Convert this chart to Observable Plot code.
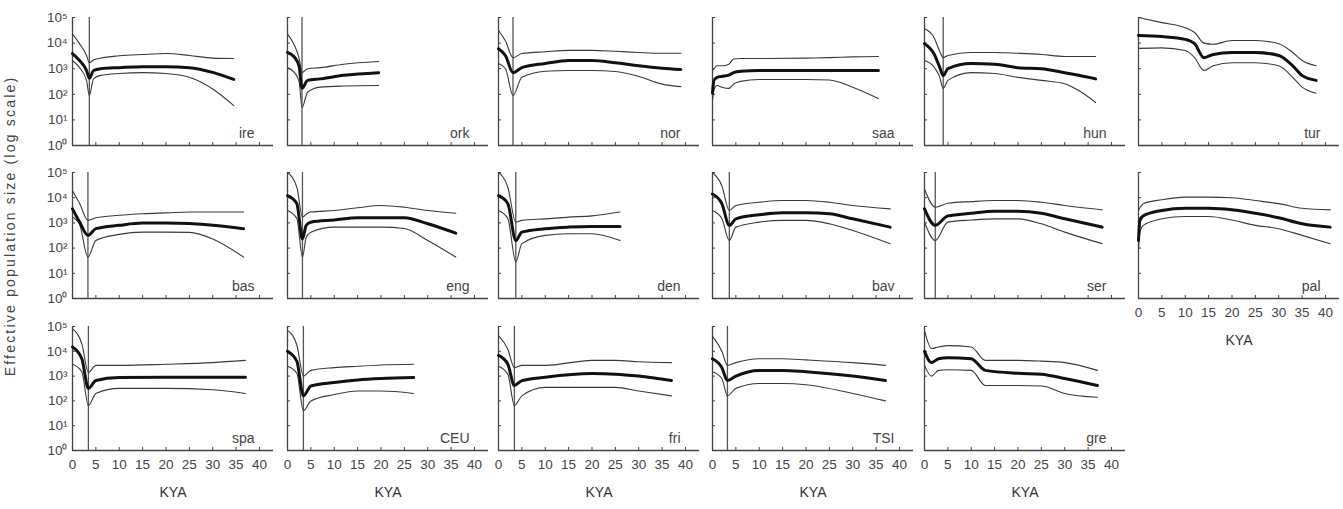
<!DOCTYPE html>
<html><head><meta charset="utf-8">
<script src="https://cdn.jsdelivr.net/npm/d3@7"></script>
<script src="https://cdn.jsdelivr.net/npm/@observablehq/plot@0.6"></script>
<style>
body{margin:0;background:#fff}
#chart{position:relative;width:1343px;height:509px;font-family:"Liberation Sans",Arial,sans-serif;overflow:hidden}
#ytitle{position:absolute;left:10px;top:226px;transform:translate(-50%,-50%) rotate(-90deg);white-space:nowrap;font-size:14px;letter-spacing:2.2px;color:#444}
</style>
</head><body><div id="chart"><div id="ytitle">Effective population size (log scale)</div></div>
<script>
// ---- data: each row is [KYA, lower bound, median, upper bound] (effective population size) ----
const ire = [[0,2100,3900,23000],[1.5,1100,2100,9500],[3,350,850,3300],[3.6,90,420,1700],[4.5,400,850,2200],[6,550,1000,2600],[10,650,1100,3200],[15,700,1200,3600],[20,650,1200,3900],[25,460,1100,3300],[30,160,720,2600],[34.5,36,380,2500]];
const ork = [[0,1100,4300,23000],[1.5,700,2800,8000],[2.5,300,1200,2500],[3.1,30,170,700],[4.3,120,350,1000],[7,190,400,1100],[12,210,550,1500],[19.5,220,700,1900]];
const nor = [[0,1600,6000,31000],[1.5,1000,3200,12000],[3.1,90,700,2700],[5,460,1100,3900],[10,800,1600,4600],[15,850,2100,5200],[20,850,2100,5200],[25,780,1700,4800],[30,500,1300,4300],[35,250,1050,4000],[39,200,940,4000]];
const saa = [[0,58,110,850],[0.3,150,350,1000],[1,220,460,1300],[2,190,500,1300],[3.5,170,560,1500],[4.5,250,700,2400],[6,320,800,2500],[10,380,850,2500],[20,380,850,2600],[25,360,850,2700],[30,190,850,2900],[35.5,68,850,3000]];
const hun = [[0,2100,9500,36000],[2,1200,3900,17000],[3.2,500,1200,5000],[4,170,540,2700],[5,350,1000,3300],[10,700,1600,4300],[15,650,1500,4300],[20,460,1100,4000],[25,350,1000,3600],[30,260,700,3000],[33,140,550,3000],[36.6,48,400,3000]];
const tur = [[0,6200,20000,100000],[5,6500,18000,63000],[10,5100,14000,40000],[12,2700,9500,26000],[14,850,2700,10000],[16,1300,3600,9000],[20,1700,4300,12600],[25,1700,4300,12600],[30,1300,3300,9500],[33,460,1300,4300],[35,190,540,2100],[38,110,350,1300]];
const bas = [[0,1700,3600,19000],[1.5,900,1100,6000],[3.3,44,320,1260],[5,200,590,1600],[10,350,800,2000],[15,430,980,2300],[20,430,980,2500],[25,420,950,2700],[30,230,800,2700],[36.6,44,590,2700]];
const eng = [[0,3100,12000,100000],[2,1500,5800,26000],[3.2,44,230,1700],[4,270,800,2200],[5,430,1070,2700],[10,680,1300,3100],[15,680,1600,4000],[20,680,1600,4900],[25,600,1600,4200],[30,200,920,3100],[36,44,390,2400]];
const den = [[0,3100,12000,100000],[2,1500,5800,26000],[3.7,28,200,1070],[5,150,430,1260],[10,320,590,1450],[15,370,680,1700],[20,370,720,1900],[26,200,720,2700]];
const bav = [[0,3100,14000,100000],[2,1500,5800,30000],[3.6,200,800,3100],[5,680,1450,4900],[10,1070,2100,6600],[15,1260,2500,7700],[20,1260,2500,7700],[25,920,2300,6600],[30,500,1450,4900],[38,150,680,3600]];
const ser = [[0,1070,3600,22000],[2.3,200,800,4200],[5,1070,1900,6000],[10,1300,2400,7000],[15,1450,2900,7700],[20,1450,2900,7700],[25,920,2400,6600],[30,430,1450,4900],[38,150,680,3300]];
const pal = [[0,93,200,3100],[0.3,400,1260,4000],[1,800,1900,5800],[5,1450,3100,8300],[10,1800,3800,10500],[15,1800,3800,10500],[20,1300,3300,10000],[25,800,2400,7700],[30,590,1600,5800],[35,320,920,3800],[41,150,680,3300]];
const spa = [[0,3000,15000,80000],[2,1500,5000,20000],[3.4,65,320,1400],[5,200,660,2700],[10,320,870,2700],[20,320,900,3000],[30,280,900,3500],[37,200,900,4300]];
const CEU = [[0,2500,10000,70000],[2,1300,4000,18000],[3.4,40,160,1000],[5,100,400,1700],[10,180,550,2200],[15,250,700,2500],[20,250,800,2800],[27,200,870,3000]];
const fri = [[0,2500,6800,43000],[2,1200,3000,12000],[3.4,65,420,2200],[5,160,660,2700],[10,350,900,2700],[20,350,1260,4300],[25,350,1200,4300],[30,250,1000,3800],[37,160,660,3500]];
const TSI = [[0,1500,5000,40000],[2,800,2200,10000],[3.2,160,660,2700],[5,320,1000,3500],[10,500,1700,5000],[15,500,1700,5000],[20,450,1500,4500],[30,200,1000,3500],[37,100,660,2700]];
const gre = [[0,2700,10000,70000],[1.5,1000,3500,13000],[3,1700,5000,15000],[5,1800,5500,17000],[10,1700,5000,15000],[13,420,1700,4300],[20,420,1300,4300],[25,400,1200,4000],[30,200,800,3500],[37,140,420,1700]];

const panelNames = ["ire","ork","nor","saa","hun","tur","bas","eng","den","bav","ser","pal","spa","CEU","fri","TSI","gre"];
const panelData = [ire,ork,nor,saa,hun,tur,bas,eng,den,bav,ser,pal,spa,CEU,fri,TSI,gre];
// KYA of the vertical marker line in each panel (null = none)
const markerKYA = [3.6,3.1,3.1,null,4.0,null,3.3,3.2,3.7,3.6,2.3,null,3.4,3.4,3.4,3.2,null];
const kyaTicks = [0,5,10,15,20,25,30,35,40];
const neTicks = [1,10,100,1000,10000,100000];
const neTickLabels = ["10⁰","10¹","10²","10³","10⁴","10⁵"];

// ---- layout ----
const colX = [72,287,498,712,924,1138];
const rowTop = [17,172,326];
const rowBottom = [145,298,450];
const innerW = 201;

const root = document.getElementById("chart");
panelNames.forEach((name, i) => {
  const row = Math.floor(i / 6), col = i % 6;
  const rows = panelData[i];
  const showX = row === 2 || name === "pal";
  const showY = col === 0;
  const ml = 48, mr = 6, mt = 10, mb = showX ? 54 : 12;
  const innerH = rowBottom[row] - rowTop[row];
  const marks = [
    Plot.ruleY([1], {stroke: "#444", strokeWidth: 1.3}),
    Plot.ruleX([0], {stroke: "#444", strokeWidth: 1.3})
  ];
  if (markerKYA[i] != null) marks.push(Plot.ruleX([markerKYA[i]], {stroke: "#555", strokeWidth: 1.3}));
  marks.push(
    Plot.line(rows, {x: d => d[0], y: d => d[3], stroke: "#3a3a3a", strokeWidth: 1.1, curve: "monotone-x"}),
    Plot.line(rows, {x: d => d[0], y: d => d[1], stroke: "#3a3a3a", strokeWidth: 1.1, curve: "monotone-x"}),
    Plot.line(rows, {x: d => d[0], y: d => d[2], stroke: "#111", strokeWidth: 3, curve: "monotone-x"}),
    Plot.text([name], {frameAnchor: "bottom-right", textAnchor: "end", lineAnchor: "bottom", dx: -19, dy: -8, fontSize: 14, fill: "#444"})
  );
  if (showX) marks.push(Plot.text(["KYA"], {frameAnchor: "bottom", lineAnchor: "bottom", dy: 46, fontSize: 14, fill: "#333", letterSpacing: "1px"}));
  const chart = Plot.plot({
    width: ml + innerW + mr, height: mt + innerH + mb,
    marginLeft: ml, marginRight: mr, marginTop: mt, marginBottom: mb,
    style: {fontFamily: '"Liberation Sans", Arial, sans-serif', fontSize: "13.5px", color: "#444", background: "transparent"},
    x: {domain: [0, 43], ticks: kyaTicks, tickSize: -3, tickPadding: 12, tickFormat: showX ? (d => String(d)) : (() => ""), label: null},
    y: {type: "log", domain: [1, 1e5], ticks: neTicks, tickSize: -3, tickPadding: 8, tickFormat: showY ? (d => neTickLabels[neTicks.indexOf(d)]) : (() => ""), label: null},
    marks
  });
  chart.style.position = "absolute";
  chart.style.left = (colX[col] - ml) + "px";
  chart.style.top = (rowTop[row] - mt) + "px";
  root.appendChild(chart);
});
</script>
</body></html>
